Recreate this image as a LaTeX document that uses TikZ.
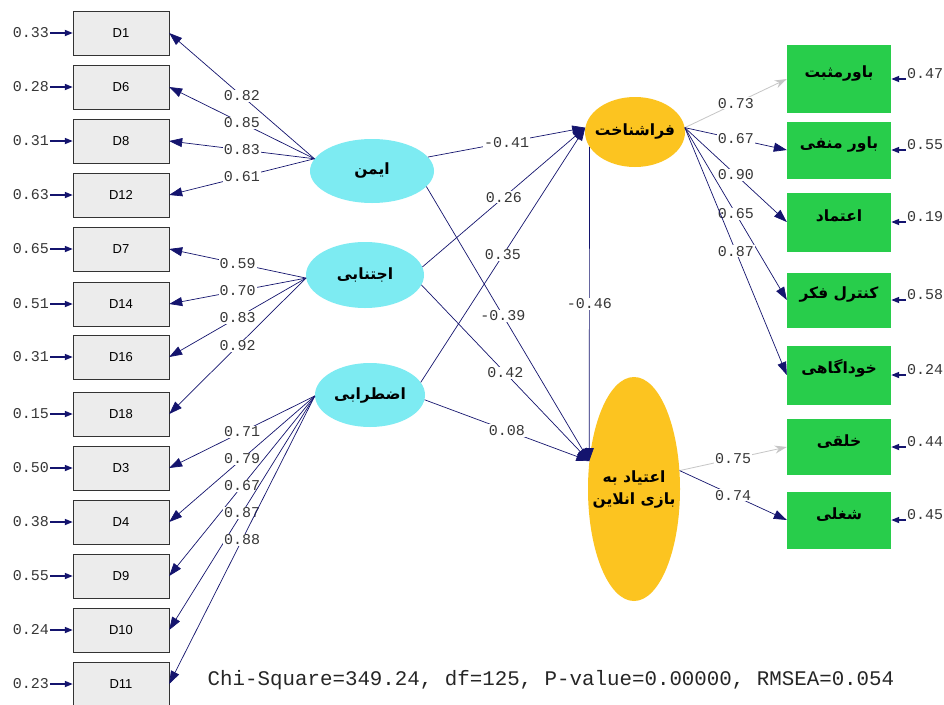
\documentclass[tikz,border=0pt]{standalone}
\usepackage{fontspec}
\setmainfont{Liberation Sans}
\newfontfamily\farsi[Script=Arabic]{DejaVu Sans}
\newfontfamily\monofont{Liberation Mono}
\TeXXeTstate=1
\usetikzlibrary{shapes.geometric,arrows.meta}

\definecolor{navy}{RGB}{20,20,110}
\definecolor{latcyan}{RGB}{125,235,242}
\definecolor{latorange}{RGB}{252,196,32}
\definecolor{boxgreen}{RGB}{40,205,75}
\definecolor{boxgray}{RGB}{236,236,236}
\definecolor{numgray}{RGB}{55,55,55}

\newcommand{\fatext}[1]{{\farsi\bfseries\beginR #1\endR}}

\tikzset{
  obsbox/.style={draw=black!80, fill=boxgray, minimum width=96pt, minimum height=44pt,
    inner sep=0pt, font=\fontsize{13}{15}\selectfont},
  latent/.style={ellipse, fill=latcyan, inner sep=0pt, inner xsep=-6pt,
    font=\fontsize{15.5}{18}\selectfont},
  factor/.style={ellipse, fill=latorange, inner sep=0pt, inner xsep=-10pt, align=center,
    font=\fontsize{15.5}{22}\selectfont},
  greenbox/.style={fill=boxgreen, minimum width=104pt, inner sep=0pt,
    font=\fontsize{15.5}{18}\selectfont},
  coef/.style={fill=white, inner sep=1pt, text=numgray, font=\monofont\fontsize{15}{17}\selectfont},
  errnum/.style={inner sep=1pt, text=numgray, font=\monofont\fontsize{15}{17}\selectfont},
  link/.style={draw=navy, line width=0.7pt, -{Triangle[length=13pt,width=9pt]}},
  greylink/.style={draw=gray!45, line width=0.8pt, -{Stealth[length=12pt,width=8pt]}},
  errlink/.style={draw=navy, line width=1.6pt, -{Triangle[length=8pt,width=6pt]}}
}

\begin{document}
\begin{tikzpicture}[x=1pt, y=-1pt]
\fill[white] (0,0) rectangle (944,704);
\useasboundingbox (0,0) rectangle (944,704);

% --- Observed indicators (left) ---
\foreach \nm/\cy/\err in {D1/33/0.33, D6/87/0.28, D8/141/0.31, D12/195/0.63,
    D7/249/0.65, D14/304/0.51, D16/357/0.31, D18/414/0.15,
    D3/468/0.50, D4/522/0.38, D9/576/0.55, D10/630/0.24, D11/684/0.23} {
    \node[obsbox] (\nm) at (121,\cy) {\nm};
    \node[errnum] (e\nm) at (31,\cy) {\err};
    \draw[errlink] (e\nm) -- (\nm);
}

% --- Exogenous latents ---
\node[latent, minimum width=124pt, minimum height=64pt] (ayman) at (372,171) {\fatext{ایمن}};
\node[latent, minimum width=118pt, minimum height=66pt] (avoid) at (365,275) {\fatext{اجتنابی}};
\node[latent, minimum width=110pt, minimum height=64pt] (anx) at (370,395) {\fatext{اضطرابی}};

% --- Endogenous latents ---
\node[factor, minimum width=100pt, minimum height=70pt] (meta) at (635,132) {\fatext{فراشناخت}};
\node[factor, minimum width=92pt, minimum height=224pt] (addict) at (634,489)
    {\fatext{اعتیاد به}\\ \fatext{بازی انلاین}};

% --- Observed indicators (right) ---
\foreach \nm/\cy/\ht/\txt/\err in {pos/79/68/باورمثبت/0.47, neg/150/57/باور منفی/0.55,
    trust/222/59/اعتماد/0.19, ctrl/300/55/کنترل فکر/0.58, aware/375/59/خوداگاهی/0.24,
    mood/447/56/خلقی/0.44, job/520/57/شغلی/0.45} {
    \node[greenbox, minimum height=\ht pt] (\nm) at (839,\cy) {\fatext{\txt}};
    \node[errnum] (e\nm) at (925,\cy) {\err};
    \draw[errlink] (e\nm) -- (\nm);
}

% --- Loadings ---
\foreach \nm/\val in {D1/0.82, D6/0.85, D8/0.83, D12/0.61}
    \draw[link] (ayman.168) -- node[coef] {\val} (\nm.east);
\foreach \nm/\val in {D7/0.59, D14/0.70, D16/0.83, D18/0.92}
    \draw[link] (avoid.183) -- node[coef] {\val} (\nm.east);
\foreach \nm/\val in {D3/0.71, D4/0.79, D9/0.67, D10/0.87, D11/0.88}
    \draw[link] (anx.181) -- node[coef] {\val} (\nm.east);

% --- Structural paths ---
\draw[link] (ayman.14) -- node[coef] {-0.41} (meta.175);
\draw[link] (avoid.8) -- node[coef] {0.26} (meta.175);
\draw[link] (anx.14) -- node[coef] {0.35} (meta.175);
\draw[link] (ayman.-16) -- node[coef, pos=0.47] {-0.39} (addict.148);
\draw[link] (avoid.-10) -- node[coef] {0.42} (addict.148);
\draw[link] (anx.-5) -- node[coef] {0.08} (addict.148);
\draw[link] (meta.198) -- node[coef] {-0.46} (addict.148);

% --- Right loadings ---
\draw[greylink] (meta.5) -- node[coef] {0.73} (pos.west);
\foreach \nm/\val in {neg/0.67, trust/0.90, ctrl/0.65, aware/0.87}
    \draw[link] (meta.5) -- node[coef] {\val} (\nm.west);
\draw[greylink] (addict.22) -- node[coef] {0.75} (mood.west);
\draw[link] (addict.22) -- node[coef] {0.74} (job.west);

% --- Fit statistics ---
\node[font=\monofont\fontsize{20.8}{23}\selectfont, text=black!85] (fit) at (551,680)
    {Chi-Square=349.24, df=125, P-value=0.00000, RMSEA=0.054};

\end{tikzpicture}
\end{document}
